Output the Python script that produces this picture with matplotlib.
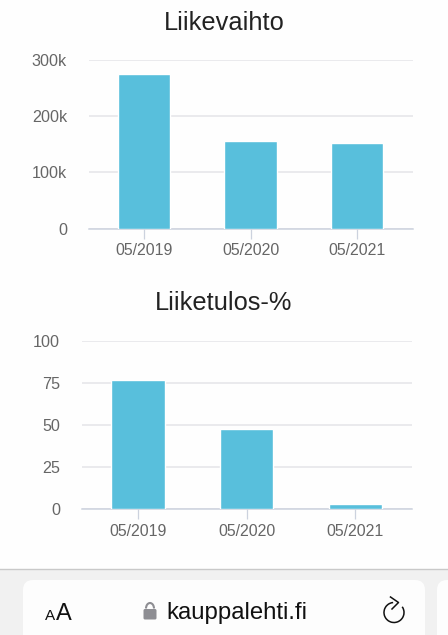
import matplotlib
matplotlib.use("Agg")
import matplotlib.pyplot as plt
from matplotlib.patches import FancyBboxPatch, Rectangle, Arc

W, H = 448, 635
years = ["05/2019", "05/2020", "05/2021"]
revenue = [275000, 155000, 152000]
revenue_ticks = [0, 100000, 200000, 300000]
revenue_labels = ["0", "100k", "200k", "300k"]
margin = [76.5, 47.5, 3]
margin_ticks = [0, 25, 50, 75, 100]
margin_labels = ["0", "25", "50", "75", "100"]

plt.rcParams['font.family'] = ['Liberation Sans', 'DejaVu Sans']
BAR = '#58bfdc'
TXT = '#666666'

fig = plt.figure(figsize=(W / 100, H / 100), dpi=100, facecolor='#fefefe')


def make_axes(left, right, top, bottom):
    return fig.add_axes([left / W, 1 - bottom / H, (right - left) / W, (bottom - top) / H])


def bar_chart(ax, values, ticks, labels, ymax, width):
    ax.set_facecolor('none')
    ax.bar(years, values, width=width, color=BAR, edgecolor='#ffffff', linewidth=1.0, zorder=3)
    ax.set_xlim(-0.52, 2.52)
    ax.set_ylim(0, ymax)
    ax.set_yticks(ticks)
    ax.set_yticklabels(labels)
    ax.grid(axis='y', color='#e4e4e8', linewidth=1.1, zorder=1)
    ax.set_axisbelow(True)
    for s in ['top', 'right', 'left']:
        ax.spines[s].set_visible(False)
    ax.spines['bottom'].set_color('#ccd2de')
    ax.spines['bottom'].set_linewidth(1.1)
    ax.tick_params(axis='y', length=0, pad=15.5, labelsize=11.6, labelcolor=TXT)
    ax.tick_params(axis='x', length=7, width=0.9, color='#ccd2de', pad=3.5, labelsize=11.4, labelcolor=TXT)


ax1 = make_axes(88.5, 412.5, 60, 228.5)
bar_chart(ax1, revenue, revenue_ticks, revenue_labels, 300000, 0.49)
ax2 = make_axes(81.5, 412, 341, 509)
bar_chart(ax2, margin, margin_ticks, margin_labels, 100, 0.49)

fig.text(224 / W, 1 - 23 / H, "Liikevaihto", ha='center', va='center', fontsize=18.3, color='#222222')
fig.text(224 / W, 1 - 303 / H, "Liiketulos-%", ha='center', va='center', fontsize=18.3, color='#222222')

# browser toolbar at the bottom
bg = fig.add_axes([0, 0, 1, 1], zorder=5)
bg.set_xlim(0, W)
bg.set_ylim(H, 0)
bg.axis('off')
bg.add_patch(Rectangle((0, 569), W, 66, facecolor='#f1f1f1', edgecolor='none'))
bg.plot([0, W], [568.5, 568.5], color='#c9c9c9', lw=1)
bg.add_patch(FancyBboxPatch((23, 580), 402, 70, boxstyle='round,pad=0,rounding_size=10',
                            facecolor='#fdfdfd', edgecolor='none'))
bg.add_patch(FancyBboxPatch((437, 580), 30, 70, boxstyle='round,pad=0,rounding_size=10',
                            facecolor='#fdfdfd', edgecolor='none'))
bg.text(44.5, 619.5, "A", fontsize=11, color='#111111', va='baseline')
bg.text(56, 619.5, "A", fontsize=17, color='#111111', va='baseline')
bg.text(166, 619, "kauppalehti.fi", fontsize=17.2, color='#111111', va='baseline')
bg.add_patch(FancyBboxPatch((143.5, 609), 13, 10.5, boxstyle='round,pad=0,rounding_size=1.5',
                            facecolor='#8e8e93', edgecolor='none'))
bg.add_patch(Arc((150, 608.5), 8, 11, theta1=180, theta2=360, color='#8e8e93', lw=1.5))
bg.add_patch(Arc((394, 612.5), 20, 20, theta1=-35, theta2=265, color='#111111', lw=1.1))
bg.plot([390.5, 398.5, 392], [597, 602.5, 609], color='#111111', lw=1.1)

fig.savefig("out.png", dpi=100, facecolor=fig.get_facecolor())
